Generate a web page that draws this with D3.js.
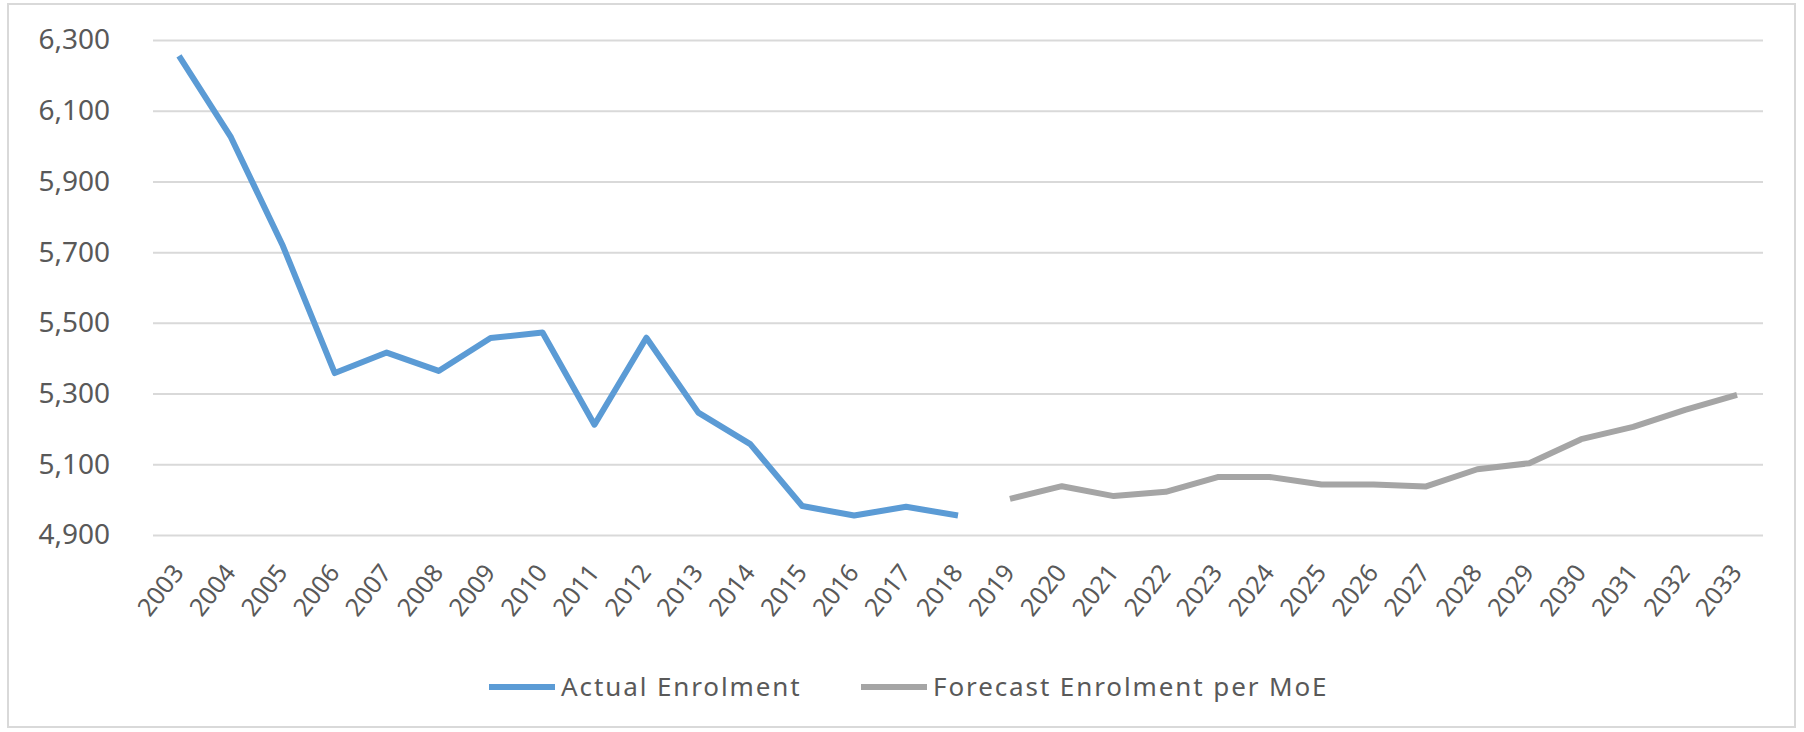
<!DOCTYPE html>
<html>
<head>
<meta charset="utf-8">
<script src="https://cdn.jsdelivr.net/npm/d3@7"></script>
<style>
  html, body { margin: 0; padding: 0; background: #fff; }
  svg { display: block; }
  text { font-family: "Noto Sans", "Open Sans", sans-serif; fill: #595959; }
</style>
</head>
<body>
<svg id="chart" width="1804" height="732"></svg>
<script>
const years = d3.range(2003, 2034).map(String);
const actualYears = years.slice(0, 16);
const actualValues = [6255, 6025, 5718, 5358, 5416, 5364, 5457, 5473, 5212, 5458, 5246, 5157, 4982, 4955, 4980, 4955];
const forecastYears = years.slice(16);
const forecastValues = [5002, 5038, 5010, 5022, 5064, 5064, 5043, 5043, 5037, 5086, 5103, 5171, 5206, 5254, 5296];
const yTicks = [4900, 5100, 5300, 5500, 5700, 5900, 6100, 6300];
const seriesNames = ["Actual Enrolment", "Forecast Enrolment per MoE"];
const seriesColors = ["#5B9BD5", "#A5A5A5"];

const svg = d3.select("#chart");
svg.append("rect").attr("width", 1804).attr("height", 732).attr("fill", "#fff");
svg.append("rect").attr("x", 8).attr("y", 4).attr("width", 1787).attr("height", 723)
  .attr("fill", "none").attr("stroke", "#d9d9d9").attr("stroke-width", 2);

const x = d3.scaleBand().domain(years).range([153, 1763]).padding(0);
const y = d3.scaleLinear().domain([4900, 6300]).range([535, 40]);

// gridlines
const yAxis = d3.axisLeft(y).tickValues(yTicks).tickSize(-(1763 - 153)).tickFormat(d3.format(","));
const gy = svg.append("g").attr("transform", "translate(153,0)").call(yAxis);
gy.select(".domain").remove();
gy.selectAll(".tick line").attr("stroke", "#d9d9d9").attr("stroke-width", 2);
gy.selectAll(".tick text").attr("x", -43).attr("font-size", 28).attr("fill", "#595959")
  .style("font-family", '"Noto Sans", sans-serif');

// x axis labels
const xAxis = d3.axisBottom(x).tickSize(0).tickPadding(0);
const gx = svg.append("g").attr("transform", "translate(0,535)").call(xAxis);
gx.select(".domain").remove();
gx.selectAll(".tick text")
  .attr("text-anchor", "end")
  .attr("font-size", 25)
  .attr("fill", "#595959")
  .style("font-family", '"Noto Sans", sans-serif')
  .attr("y", 0).attr("dy", 0)
  .attr("transform", "translate(6,38) rotate(-52)");

const line = d3.line().x(d => x(d[0]) + x.bandwidth() / 2).y(d => y(d[1]));
svg.append("path").datum(actualYears.map((yr, i) => [yr, actualValues[i]]))
  .attr("d", line).attr("fill", "none").attr("stroke", seriesColors[0])
  .attr("stroke-width", 6).attr("stroke-linejoin", "round");
svg.append("path").datum(forecastYears.map((yr, i) => [yr, forecastValues[i]]))
  .attr("d", line).attr("fill", "none").attr("stroke", seriesColors[1])
  .attr("stroke-width", 6).attr("stroke-linejoin", "round");

// legend
const legendX = [489, 861];
seriesNames.forEach((name, i) => {
  const g = svg.append("g").attr("transform", `translate(${legendX[i]},687)`);
  g.append("line").attr("x1", 0).attr("x2", 66).attr("y1", 0).attr("y2", 0)
    .attr("stroke", seriesColors[i]).attr("stroke-width", 6);
  g.append("text").attr("x", 72).attr("y", 0).attr("dy", "0.35em")
    .attr("font-size", 26).attr("letter-spacing", 1.9).text(name);
});
</script>
</body>
</html>
